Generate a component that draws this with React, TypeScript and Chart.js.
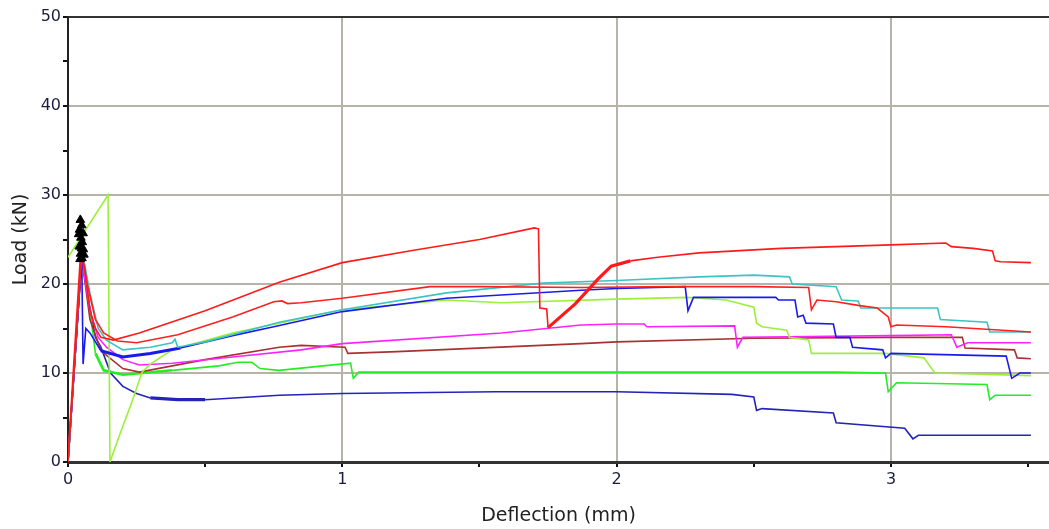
import React, { useEffect, useRef } from 'react';
import { Chart, registerables } from 'chart.js';
Chart.register(...registerables);

type P = [number, number];

const xTickValues = [0, 0.5, 1, 1.5, 2, 2.5, 3, 3.5];
const yTickValues = [0, 5, 10, 15, 20, 25, 30, 35, 40, 45, 50];
const xTitle = 'Deflection (mm)';
const yTitle = 'Load (kN)';

const peakPoints: P[] = [
  [0.045, 27.2], [0.05, 26.6], [0.042, 26.1], [0.055, 25.7], [0.047, 25.2], [0.052, 24.7],
  [0.041, 24.2], [0.056, 23.9], [0.046, 23.4], [0.051, 22.9], [0.058, 23.3], [0.039, 25.6],
  [0.049, 24.0], [0.044, 22.8],
];

const redA: P[] = [
  [0, 0.5], [0.045, 23], [0.06, 22], [0.08, 17], [0.1, 15], [0.12, 14], [0.165, 13.7], [0.26, 14.5],
  [0.5, 17], [0.77, 20.2], [1.0, 22.4], [1.26, 23.8], [1.5, 25], [1.7, 26.3], [1.715, 26.2],
  [1.72, 17.3], [1.745, 17.2], [1.75, 15.1], [1.85, 17.8], [1.93, 20.5], [1.98, 22], [2.05, 22.6],
  [2.15, 23], [2.3, 23.5], [2.6, 24], [3.0, 24.4], [3.2, 24.6], [3.22, 24.2], [3.3, 24.0],
  [3.37, 23.7], [3.38, 22.6], [3.4, 22.5], [3.51, 22.4],
];

const redB: P[] = [
  [0, 0], [0.05, 23.5], [0.07, 20], [0.1, 16], [0.13, 14.5], [0.18, 13.6], [0.25, 13.4], [0.4, 14.3],
  [0.6, 16.3], [0.75, 18.0], [0.78, 18.1], [0.8, 17.8], [0.85, 17.9], [1.0, 18.4], [1.32, 19.7],
  [1.5, 19.7], [1.87, 19.6], [2.2, 19.7], [2.5, 19.7], [2.7, 19.6], [2.71, 17.1], [2.73, 18.2],
  [2.8, 18.0], [2.88, 17.6], [2.95, 17.3], [2.99, 16.3], [3.0, 15.2], [3.02, 15.4], [3.2, 15.2],
  [3.51, 14.6],
];

const cyan: P[] = [
  [0, 0], [0.05, 24], [0.08, 19], [0.11, 15], [0.14, 13.7], [0.2, 12.6], [0.3, 12.9], [0.38, 13.4],
  [0.39, 13.8], [0.4, 12.9], [0.5, 13.5], [0.77, 15.7], [1.0, 17.1], [1.38, 19.0], [1.73, 20.1],
  [2.0, 20.4], [2.3, 20.8], [2.5, 21.0], [2.63, 20.8], [2.64, 20.0], [2.8, 19.7], [2.82, 18.2],
  [2.88, 18.1], [2.89, 17.3], [3.17, 17.3], [3.18, 16.0], [3.35, 15.7], [3.36, 14.6], [3.51, 14.6],
];

const blueUpper: P[] = [
  [0, 0], [0.05, 23], [0.055, 11], [0.065, 15], [0.08, 14.5], [0.12, 12.5], [0.2, 11.8], [0.3, 12.2],
  [0.41, 12.8], [0.6, 14.2], [0.75, 15.2], [1.0, 16.9], [1.38, 18.4], [1.87, 19.3], [2.0, 19.5],
  [2.25, 19.7], [2.26, 17.0], [2.28, 18.5], [2.58, 18.5], [2.59, 18.2], [2.65, 18.2], [2.66, 16.3],
  [2.68, 16.5], [2.69, 15.6], [2.79, 15.5], [2.8, 14.0], [2.85, 14.0], [2.86, 12.9], [2.97, 12.6],
  [2.98, 11.7], [3.0, 12.2], [3.42, 11.9], [3.44, 9.4], [3.47, 10.0], [3.51, 10.0],
];

const lime: P[] = [
  [0, 23], [0.146, 30], [0.153, 0], [0.19, 3.2], [0.23, 6.5], [0.27, 10.1], [0.3, 11], [0.38, 12.6],
  [0.6, 14.5], [0.77, 15.6], [1.0, 17.1], [1.38, 18.2], [1.58, 17.9], [2.0, 18.3], [2.26, 18.5],
  [2.4, 18.2], [2.5, 17.4], [2.51, 15.6], [2.53, 15.2], [2.62, 14.8], [2.63, 14.0], [2.7, 13.7],
  [2.71, 12.2], [2.98, 12.2], [3.12, 11.7], [3.16, 10.0], [3.51, 9.7],
];

const magenta: P[] = [
  [0, 0], [0.05, 23], [0.08, 17], [0.11, 14], [0.14, 12.9], [0.2, 11.5], [0.26, 10.9], [0.38, 11.1],
  [0.6, 11.8], [0.85, 12.6], [1.0, 13.3], [1.58, 14.5], [1.87, 15.4], [2.0, 15.5], [2.1, 15.5],
  [2.11, 15.2], [2.43, 15.3], [2.44, 12.9], [2.46, 14.0], [2.7, 14.1], [3.0, 14.2], [3.22, 14.3],
  [3.24, 12.9], [3.28, 13.4], [3.51, 13.4],
];

const brown: P[] = [
  [0, 0], [0.05, 23], [0.08, 16], [0.12, 12.5], [0.2, 10.5], [0.26, 10.1], [0.5, 11.5], [0.77, 12.9],
  [0.85, 13.1], [1.01, 12.9], [1.02, 12.2], [1.2, 12.4], [1.87, 13.3], [2.0, 13.5], [2.5, 13.9],
  [3.0, 14.0], [3.26, 14.0], [3.27, 12.8], [3.45, 12.6], [3.46, 11.7], [3.51, 11.6],
];

const green: P[] = [
  [0, 0], [0.05, 23], [0.08, 17], [0.1, 12.2], [0.13, 10.3], [0.2, 9.8], [0.38, 10.3], [0.55, 10.8],
  [0.62, 11.2], [0.67, 11.2], [0.7, 10.5], [0.77, 10.3], [0.93, 10.8], [1.03, 11.1], [1.04, 9.4],
  [1.06, 10.1], [2.0, 10.1], [2.8, 10.1], [2.98, 10.0], [2.99, 7.9], [3.02, 8.9], [3.35, 8.7],
  [3.36, 7.0], [3.38, 7.5], [3.51, 7.5],
];

const blueLower: P[] = [
  [0, 0], [0.05, 23], [0.07, 19], [0.1, 14], [0.12, 12.9], [0.155, 10], [0.2, 8.5], [0.25, 7.7],
  [0.3, 7.2], [0.4, 7.0], [0.5, 7.0], [0.77, 7.5], [1.0, 7.7], [1.56, 7.9], [2.0, 7.9], [2.42, 7.6],
  [2.5, 7.3], [2.51, 5.8], [2.53, 6.0], [2.79, 5.5], [2.8, 4.4], [3.05, 3.8], [3.08, 2.6],
  [3.1, 3.0], [3.51, 3.0],
];

// style only: [from, to] deflection range drawn heavier (noisy parts of the trace)
const seriesList: { data: P[]; color: string; width: number; heavy?: [number, number]; heavyWidth?: number }[] = [
  { data: redA, color: '#ff1a1a', width: 1.6, heavy: [1.75, 2.05], heavyWidth: 3.2 },
  { data: redB, color: '#ff2020', width: 1.6 },
  { data: cyan, color: '#3cc4c4', width: 1.6 },
  { data: blueUpper, color: '#1a1aee', width: 1.6, heavy: [0.12, 0.41], heavyWidth: 3 },
  { data: lime, color: '#9cf03a', width: 1.6 },
  { data: magenta, color: '#ff22ff', width: 1.6 },
  { data: brown, color: '#a83232', width: 1.6 },
  { data: green, color: '#22ee22', width: 1.6, heavy: [0.1, 0.4], heavyWidth: 2.6 },
  { data: blueLower, color: '#2424b8', width: 1.6, heavy: [0.3, 0.5], heavyWidth: 3.2 },
];

const toXY = (arr: P[]) => arr.map(([x, y]) => ({ x, y }));

export default function App() {
  const ref = useRef<HTMLCanvasElement | null>(null);
  useEffect(() => {
    if (!ref.current) return;
    const gridGray = '#b8b3a8';
    const tickFont = { family: '"DejaVu Sans", Verdana, sans-serif', size: 16 };
    const titleFont = { family: '"DejaVu Sans", Verdana, sans-serif', size: 19 };
    const chart = new Chart(ref.current, {
      type: 'scatter',
      data: {
        datasets: [
          {
            data: toXY(peakPoints),
            showLine: false,
            pointStyle: 'triangle',
            pointRadius: 5,
            backgroundColor: '#000',
            borderColor: '#000',
            borderWidth: 1,
          } as any,
          ...seriesList.map((s) => ({
            data: toXY(s.data),
            showLine: true,
            borderColor: s.color,
            backgroundColor: s.color,
            borderWidth: s.width,
            pointRadius: 0,
            tension: 0,
            segment: {
              borderWidth: (ctx: any) => {
                if (!s.heavy) return s.width;
                const x0 = ctx.p0.parsed.x;
                const x1 = ctx.p1.parsed.x;
                return x0 >= s.heavy[0] && x1 <= s.heavy[1] ? s.heavyWidth : s.width;
              },
            },
          })),
        ],
      },
      options: {
        responsive: false,
        animation: false,
        devicePixelRatio: 1,
        layout: { autoPadding: false, padding: { top: 17, right: 0, left: 0, bottom: 0 } },
        plugins: { legend: { display: false }, tooltip: { enabled: false } },
        scales: {
          x: {
            type: 'linear',
            min: 0,
            max: 3.576,
            afterBuildTicks: (s: any) => {
              s.ticks = xTickValues.map((v) => ({ value: v }));
            },
            afterFit: (s: any) => {
              s.height = 67;
            },
            ticks: {
              autoSkip: false,
              maxRotation: 0,
              padding: 3,
              color: '#1c1c3c',
              font: tickFont,
              callback: (v: any) => (Number.isInteger(Number(v)) ? String(v) : ''),
            },
            grid: {
              color: (ctx: any) => {
                const v = ctx.tick ? ctx.tick.value : 0;
                return v > 0 && Number.isInteger(v) ? gridGray : 'rgba(0,0,0,0)';
              },
              lineWidth: 2,
              tickColor: '#111',
              tickWidth: 2,
              tickLength: 5,
            },
            border: { color: '#333', width: 3 },
            title: {
              display: true,
              text: xTitle,
              color: '#222',
              font: titleFont,
              padding: { top: 0, bottom: 2 },
            },
          },
          y: {
            type: 'linear',
            min: 0,
            max: 50,
            afterBuildTicks: (s: any) => {
              s.ticks = yTickValues.map((v) => ({ value: v }));
            },
            afterFit: (s: any) => {
              s.width = 68;
            },
            ticks: {
              padding: 2,
              color: '#1c1c3c',
              font: tickFont,
              callback: (v: any) => (Number(v) % 10 === 0 ? String(v) : ''),
            },
            grid: {
              color: (ctx: any) => {
                const v = ctx.tick ? ctx.tick.value : 0;
                if (v === 50) return '#333';
                return v > 0 && v % 10 === 0 ? gridGray : 'rgba(0,0,0,0)';
              },
              lineWidth: 2,
              tickColor: '#111',
              tickWidth: 2,
              tickLength: 5,
            },
            border: { color: '#222', width: 2 },
            title: {
              display: true,
              text: yTitle,
              color: '#222',
              font: titleFont,
              padding: { top: 10, bottom: 0 },
            },
          },
        },
      } as any,
    });
    return () => chart.destroy();
  }, []);
  return (
    <div style={{ position: 'fixed', left: 0, top: 0, width: 1049, height: 529, background: '#fff' }}>
      <canvas ref={ref} width={1049} height={529} />
    </div>
  );
}
